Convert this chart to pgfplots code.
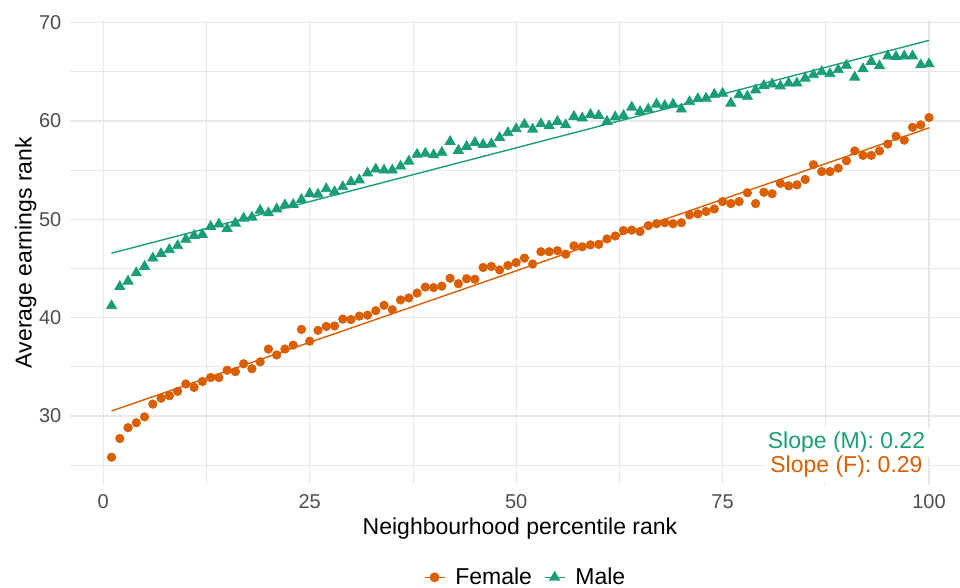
\documentclass[border=0pt]{standalone}
\usepackage{fontspec}
\setmainfont{Liberation Sans}
\usepackage{pgfplots}
\usepackage{pgfplotstable}
\pgfplotsset{compat=1.18}

\definecolor{mgreen}{HTML}{1B9E77}
\definecolor{forange}{HTML}{D95F02}
\definecolor{gridc}{HTML}{E8E8E8}
\definecolor{ticktext}{HTML}{4D4D4D}

% average earnings rank by neighbourhood percentile rank
\pgfplotstableread{
x y
1 25.8
2 27.7
3 28.8
4 29.3
5 29.9
6 31.2
7 31.8
8 32.05
9 32.5
10 33.25
11 32.9
12 33.5
13 33.9
14 33.9
15 34.65
16 34.5
17 35.3
18 34.8
19 35.5
20 36.8
21 36.2
22 36.8
23 37.2
24 38.8
25 37.6
26 38.7
27 39.1
28 39.15
29 39.85
30 39.8
31 40.15
32 40.25
33 40.7
34 41.25
35 40.8
36 41.8
37 42.0
38 42.5
39 43.1
40 43.05
41 43.2
42 44.0
43 43.45
44 43.95
45 43.9
46 45.1
47 45.2
48 44.85
49 45.3
50 45.6
51 46.05
52 45.45
53 46.7
54 46.7
55 46.8
56 46.45
57 47.3
58 47.2
59 47.4
60 47.45
61 48.0
62 48.3
63 48.85
64 48.9
65 48.75
66 49.35
67 49.55
68 49.65
69 49.55
70 49.65
71 50.45
72 50.55
73 50.8
74 51.05
75 51.8
76 51.6
77 51.8
78 52.7
79 51.6
80 52.75
81 52.6
82 53.65
83 53.4
84 53.5
85 54.05
86 55.55
87 54.85
88 54.85
89 55.2
90 55.95
91 56.95
92 56.5
93 56.5
94 56.95
95 57.65
96 58.45
97 58.05
98 59.35
99 59.6
100 60.35
}\female

\pgfplotstableread{
x y
1 41.2
2 43.15
3 43.7
4 44.55
5 45.2
6 46.05
7 46.5
8 46.9
9 47.3
10 47.95
11 48.35
12 48.45
13 49.25
14 49.5
15 49.05
16 49.6
17 50.1
18 50.2
19 50.9
20 50.65
21 51.05
22 51.45
23 51.5
24 52.0
25 52.6
26 52.55
27 53.1
28 52.8
29 53.3
30 53.8
31 54.0
32 54.7
33 55.1
34 55.0
35 55.0
36 55.4
37 55.9
38 56.6
39 56.7
40 56.55
41 56.8
42 57.9
43 57.0
44 57.4
45 57.8
46 57.6
47 57.65
48 58.3
49 58.8
50 59.2
51 59.65
52 59.15
53 59.7
54 59.5
55 59.95
56 59.6
57 60.45
58 60.3
59 60.65
60 60.55
61 59.95
62 60.4
63 60.55
64 61.4
65 60.95
66 61.2
67 61.7
68 61.55
69 61.7
70 61.2
71 61.95
72 62.25
73 62.3
74 62.7
75 62.8
76 61.8
77 62.65
78 62.5
79 63.15
80 63.6
81 63.75
82 63.55
83 63.85
84 63.85
85 64.35
86 64.7
87 65.0
88 64.8
89 65.2
90 65.65
91 64.45
92 65.3
93 66.05
94 65.6
95 66.6
96 66.55
97 66.6
98 66.6
99 65.7
100 65.8
}\male

\begin{document}
\begin{tikzpicture}
\begin{axis}[
    scale only axis,
    width=445pt, height=232.5pt,
    xmin=-4.03, xmax=103.75,
    ymin=22.97, ymax=70.27,
    xtick={0,25,50,75,100},
    minor xtick={12.5,37.5,62.5,87.5},
    ytick={30,40,50,60,70},
    minor ytick={25,35,45,55,65},
    grid=both,
    major grid style={gridc, line width=0.65pt},
    minor grid style={gridc, line width=0.4pt},
    axis line style={draw=none},
    major tick length=0pt, minor tick length=0pt,
    /pgf/number format/assume math mode=true,
    tick label style={font=\fontsize{10}{12}\selectfont, text=ticktext},
    xticklabel style={yshift=-1.4pt},
    yticklabel style={xshift=-0.8pt},
    label style={font=\fontsize{11.5}{13.8}\selectfont},
    xlabel={Neighbourhood percentile rank},
    xlabel style={at={(axis description cs:0.5056,-0.1075)}, anchor=base},
    ylabel={Average earnings rank},
    ylabel style={at={(axis description cs:-0.043,0.5)}, anchor=base},
    legend style={at={(axis description cs:0.513,-0.1985)}, anchor=center,
        draw=none, fill=none, legend columns=-1,
        font=\fontsize{11.5}{13.8}\selectfont,
        /tikz/every odd column/.append style={column sep=3pt},
        /tikz/every even column/.append style={column sep=4pt}},
    legend image code/.code={\draw[mark repeat=2, mark phase=2, #1]
        plot coordinates {(0pt,0pt) (5pt,0pt) (10pt,0pt)};},
]
\addlegendimage{forange, line width=0.7pt, mark=*, mark size=2.1pt}
\addlegendentry{Female}
\addlegendimage{mgreen, line width=0.7pt, mark=triangle*, mark size=2.6pt}
\addlegendentry{Male}

% fitted lines
\addplot[forange, line width=0.7pt, forget plot] coordinates {(1,30.5) (100,59.3)};
\addplot[mgreen, line width=0.7pt, forget plot] coordinates {(1,46.55) (100,68.2)};

\addplot[only marks, mark=*, mark size=2.1pt, forange, forget plot] table[x=x, y=y] {\female};
\addplot[only marks, mark=triangle*, mark size=2.9pt, mgreen, forget plot] table[x=x, y=y] {\male};

\node[anchor=base, fill=white, inner xsep=2.75pt, inner ysep=2pt, text=mgreen,
      font=\fontsize{11.5}{13.8}\selectfont] at (axis cs:90,26.7) {Slope (M): 0.22};
\node[anchor=base, fill=white, inner xsep=2.75pt, inner ysep=2pt, text=forange,
      font=\fontsize{11.5}{13.8}\selectfont] at (axis cs:90,24.22) {Slope (F): 0.29};
\end{axis}
\pgfresetboundingbox
\path[use as bounding box] ([shift={(-35pt,-51pt)}]current axis.south west)
    rectangle ([shift={(0pt,10pt)}]current axis.north east);
\end{tikzpicture}
\end{document}
